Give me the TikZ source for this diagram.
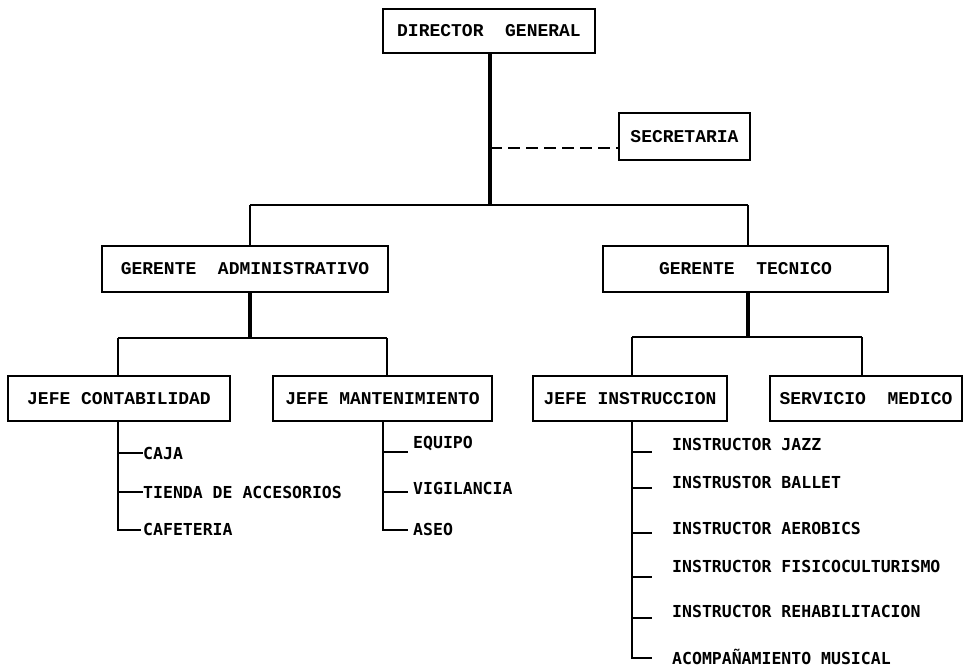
\documentclass[tikz,border=0pt]{standalone}
\usepackage{fontspec}
\newfontfamily\boxfont{Liberation Mono}
\newfontfamily\itemfont{DejaVu Sans Mono}
\begin{document}
\begin{tikzpicture}[x=1pt,y=-1pt]
\tikzset{
  unit/.style={draw, line width=2.6pt, minimum height=45pt, inner sep=0pt,
    font=\boxfont\bfseries\fontsize{18}{20}\selectfont},
  item/.style={anchor=west, inner sep=0pt,
    font=\itemfont\bfseries\fontsize{16.5}{18}\selectfont},
  link/.style={line width=2.8pt},
  trunk/.style={line width=3.4pt},
  itemline/.style={line width=2.8pt},
  dotted link/.style={line width=2.6pt, dash pattern=on 12pt off 6pt}
}
\useasboundingbox (0,0) rectangle (970,667);

% boxes
\node[unit, minimum width=212pt, minimum height=44pt] (dg) at (489,31) {DIRECTOR\ \ GENERAL};
\node[unit, minimum width=131pt, minimum height=47pt] (sec) at (684.5,136.5) {SECRETARIA};
\node[unit, minimum width=286pt, minimum height=46pt] (ga) at (245,269) {GERENTE\ \ ADMINISTRATIVO};
\node[unit, minimum width=285pt, minimum height=46pt] (gt) at (745.5,269) {GERENTE\ \ TECNICO};
\node[unit, minimum width=222pt] (jc) at (119,398.5) {JEFE CONTABILIDAD};
\node[unit, minimum width=219pt] (jm) at (382.5,398.5) {JEFE MANTENIMIENTO};
\node[unit, minimum width=194pt] (ji) at (630,398.5) {JEFE INSTRUCCION};
\node[unit, minimum width=192pt] (sm) at (866,398.5) {SERVICIO\ \ MEDICO};

% top level connectors
\coordinate (bar0) at (490,205);
\coordinate (barL) at (250,205);
\coordinate (barR) at (748,205);
\coordinate (secj) at (490,148);
\draw[trunk] (dg.south -| bar0) -- (bar0);
\draw[link] (barL) -- (barR);
\draw[link] (barL) -- (ga.north -| barL);
\draw[link] (barR) -- (gt.north -| barR);
\draw[dotted link] (secj) -- (sec.west |- secj);

% gerente administrativo
\coordinate (ga0) at (250,338);
\coordinate (gaL) at (118,338);
\coordinate (gaR) at (387,338);
\draw[trunk] (ga.south -| ga0) -- (ga0);
\draw[link] (gaL) -- (gaR);
\draw[link] (gaL) -- (jc.north -| gaL);
\draw[link] (gaR) -- (jm.north -| gaR);

% gerente tecnico
\coordinate (gt0) at (748,337);
\coordinate (gtL) at (632,337);
\coordinate (gtR) at (862,337);
\draw[trunk] (gt.south -| gt0) -- (gt0);
\draw[link] (gtL) -- (gtR);
\draw[link] (gtL) -- (ji.north -| gtL);
\draw[link] (gtR) -- (sm.north -| gtR);

% jefe contabilidad items
\node[item] (caja) at (143,453) {CAJA};
\node[item] (tienda) at (143,492) {TIENDA DE ACCESORIOS};
\node[item] (cafe) at (143,529) {CAFETERIA};
\coordinate (jcs) at (118,530);
\draw[itemline] (jc.south -| jcs) -- (jcs) -- (141,530);
\draw[itemline] (118,453) -- (caja.west);
\draw[itemline] (118,492) -- (tienda.west);

% jefe mantenimiento items
\node[item] (equipo) at (413,444) {EQUIPO};
\node[item] (vigil) at (413,488) {VIGILANCIA};
\node[item] (aseo) at (413,529) {ASEO};
\coordinate (jms) at (383,530);
\draw[itemline] (jm.south -| jms) -- (jms) -- (408,530);
\draw[itemline] (383,452) -- (408,452);
\draw[itemline] (383,492) -- (408,492);

% jefe instruccion items
\node[item] (jazz) at (672,444) {INSTRUCTOR JAZZ};
\node[item] (ballet) at (672,482) {INSTRUSTOR BALLET};
\node[item] (aero) at (672,528) {INSTRUCTOR AEROBICS};
\node[item] (fisico) at (672,566) {INSTRUCTOR FISICOCULTURISMO};
\node[item] (rehab) at (672,611) {INSTRUCTOR REHABILITACION};
\node[item] (acomp) at (672,657) {ACOMPAÑAMIENTO MUSICAL};
\coordinate (jis) at (632,658);
\draw[itemline] (ji.south -| jis) -- (jis) -- (652,658);
\draw[itemline] (632,452) -- (652,452);
\draw[itemline] (632,488) -- (652,488);
\draw[itemline] (632,533) -- (652,533);
\draw[itemline] (632,577) -- (652,577);
\draw[itemline] (632,618) -- (652,618);
\end{tikzpicture}
\end{document}
